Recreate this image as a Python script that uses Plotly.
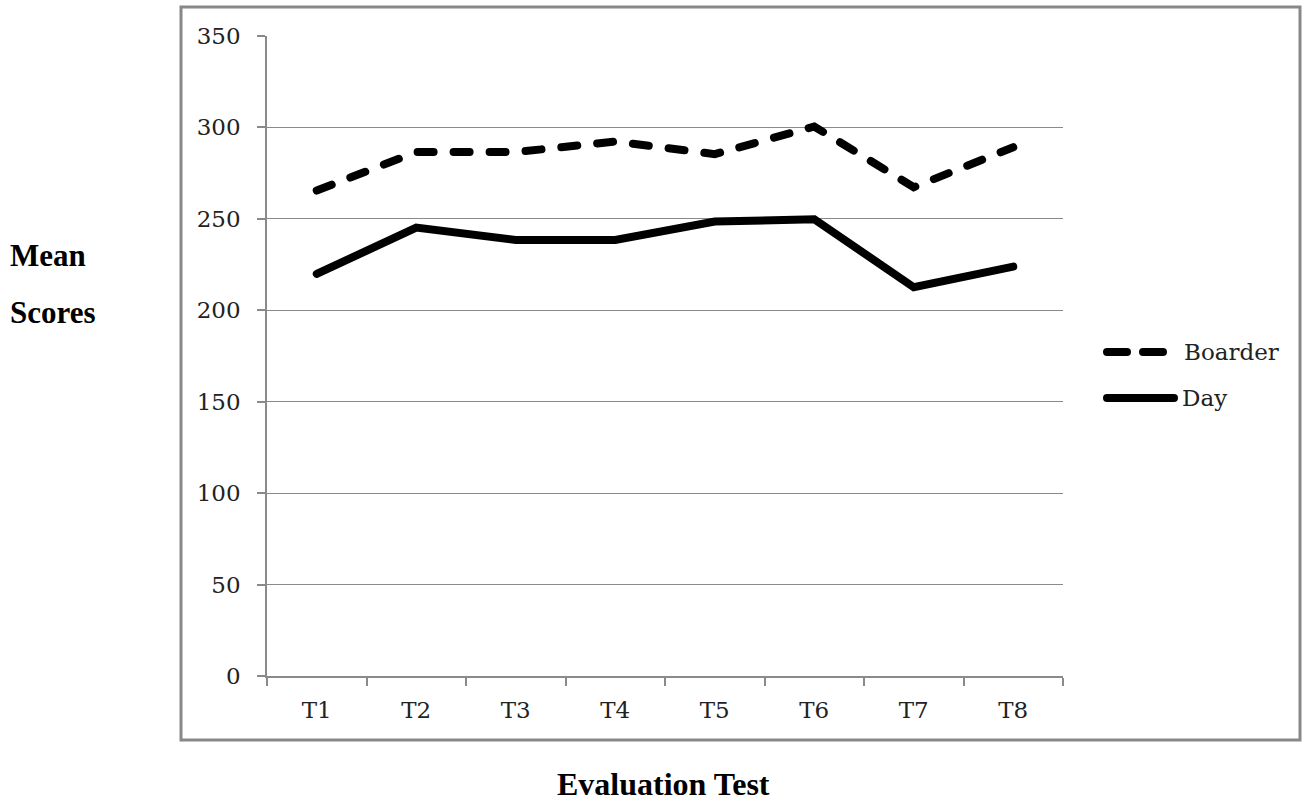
import plotly.graph_objects as go

categories = ["T1", "T2", "T3", "T4", "T5", "T6", "T7", "T8"]
boarder = [265.5, 286.5, 286.5, 292.3, 285.4, 300.5, 267.3, 289.2]
day = [219.9, 245.2, 238.5, 238.5, 248.5, 249.8, 212.6, 223.9]
series_names = ["Boarder", "Day"]
y_ticks = [0, 50, 100, 150, 200, 250, 300, 350]

W, H = 1306, 806
L, R, T, B = 267, 243, 36, 130
PW, PH = W - L - R, H - T - B


def px(x):
    return (x - L) / PW


def py(y):
    return (H - B - y) / PH


GRID = "#8a8a8a"
TICKFONT = dict(family="DejaVu Serif", size=23, color="#222222")
TITLEFONT = dict(family="Liberation Serif", size=31, color="#000000")

fig = go.Figure()
fig.add_trace(go.Scatter(x=categories, y=boarder, name=series_names[0], mode="lines",
                         line=dict(color="#000000", width=8, dash="16px,20px"),
                         showlegend=False))
fig.add_trace(go.Scatter(x=categories, y=day, name=series_names[1], mode="lines",
                         line=dict(color="#000000", width=8),
                         showlegend=False))

shapes = [
    # outer frame
    dict(type="rect", xref="paper", yref="paper", x0=px(181), x1=px(1300), y0=py(740), y1=py(7),
         line=dict(color="#888888", width=3), fillcolor="rgba(0,0,0,0)", layer="below"),
    # legend samples
    dict(type="line", xref="paper", yref="paper", x0=px(1107), x1=px(1163), y0=py(352), y1=py(352),
         line=dict(color="#000000", width=8, dash="20px,16px")),
    dict(type="line", xref="paper", yref="paper", x0=px(1107), x1=px(1174), y0=py(398), y1=py(398),
         line=dict(color="#000000", width=8)),
]

annotations = [
    dict(text="<b>Mean</b>", xref="paper", yref="paper", x=px(8), y=py(255),
         xanchor="left", yanchor="middle", showarrow=False, font=TITLEFONT),
    dict(text="<b>Scores</b>", xref="paper", yref="paper", x=px(8), y=py(312),
         xanchor="left", yanchor="middle", showarrow=False, font=TITLEFONT),
    dict(text="<b>Evaluation Test</b>", xref="paper", yref="paper", x=px(663), y=py(784),
         xanchor="center", yanchor="middle", showarrow=False,
         font=dict(family="Liberation Serif", size=32, color="#000000")),
    dict(text=series_names[0], xref="paper", yref="paper", x=px(1182), y=py(352),
         xanchor="left", yanchor="middle", showarrow=False, font=TICKFONT),
    dict(text=series_names[1], xref="paper", yref="paper", x=px(1180), y=py(398),
         xanchor="left", yanchor="middle", showarrow=False, font=TICKFONT),
]

fig.update_layout(
    width=W, height=H, autosize=False,
    margin=dict(l=L, r=R, t=T, b=B, pad=0),
    paper_bgcolor="#ffffff", plot_bgcolor="#ffffff",
    showlegend=False,
    shapes=shapes,
    annotations=annotations,
    xaxis=dict(type="category", categoryorder="array", categoryarray=categories,
               range=[-0.5, len(categories) - 0.5],
               showgrid=False, showline=True, linecolor=GRID, linewidth=1.5,
               ticks="outside", ticklen=8, tickcolor=GRID, tickwidth=1.5,
               tickson="boundaries", tickfont=TICKFONT, ticklabelstandoff=13,
               zeroline=False, fixedrange=True),
    yaxis=dict(range=[0, 350], tickvals=y_ticks, ticktext=[str(v) for v in y_ticks],
               showgrid=True, gridcolor=GRID, gridwidth=1.2,
               showline=True, linecolor=GRID, linewidth=1.5,
               ticks="outside", ticklen=8, tickcolor=GRID, tickwidth=1.5,
               tickfont=TICKFONT, ticklabelstandoff=12,
               zeroline=False, fixedrange=True),
)

round_caps = """
function roundCaps(){
  document.querySelectorAll('.scatterlayer .js-line, .shapelayer path').forEach(function(p){
    if (p.getAttribute('stroke-width') !== '3' && !(p.style.strokeWidth === '3px')) {
      p.style.strokeLinecap = 'round';
    }
  });
}
roundCaps();
var gd = document.getElementById('{plot_id}');
if (gd && gd.on) { gd.on('plotly_afterplot', roundCaps); }
"""

fig.write_html("out.html", post_script=round_caps)
